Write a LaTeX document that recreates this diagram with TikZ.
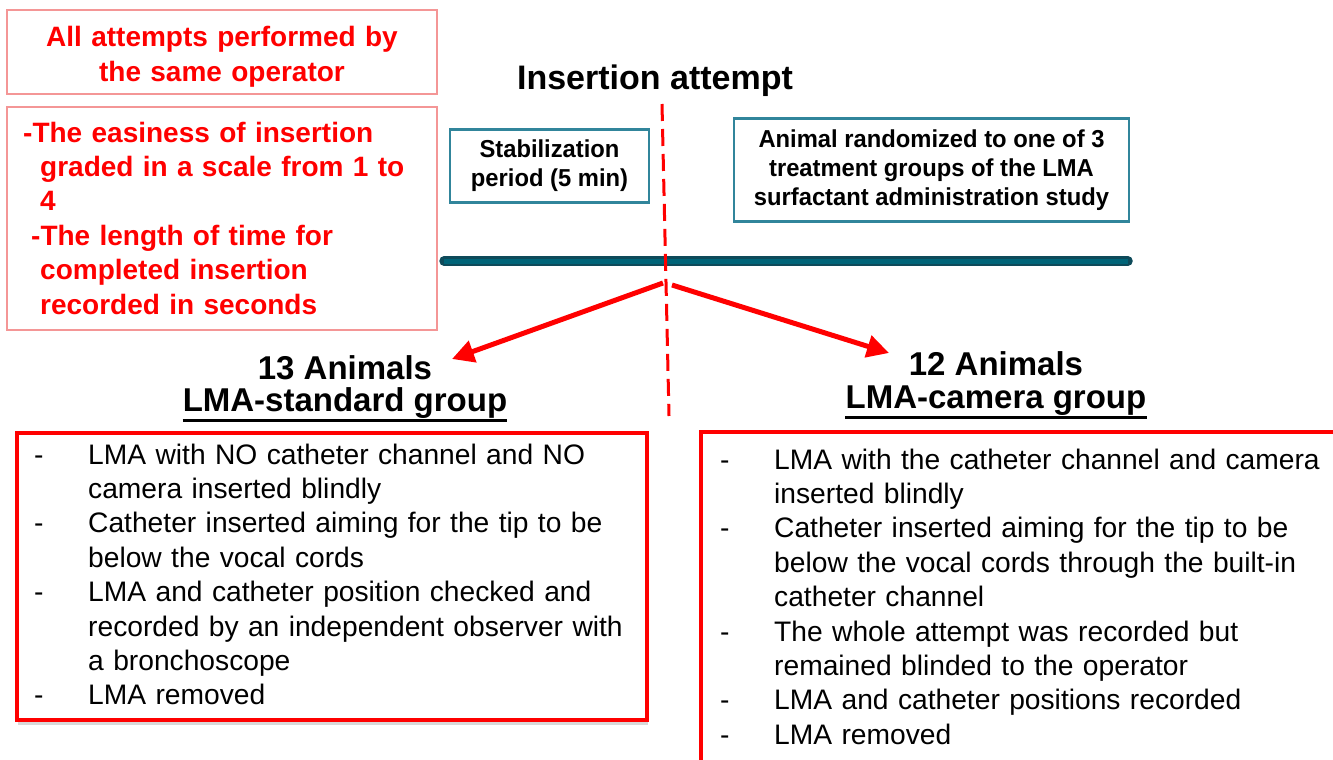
\documentclass[tikz,border=0pt]{standalone}
\usepackage{fontspec}
\setmainfont{Liberation Sans}
\newfontfamily\narrowbold[FakeStretch=0.97]{Liberation Sans Bold}
\usetikzlibrary{arrows.meta,shadows}
\definecolor{myred}{RGB}{255,0,0}
\definecolor{lightred}{RGB}{244,150,150}
\definecolor{tealbox}{RGB}{49,133,155}
\definecolor{tealbar}{RGB}{0,100,120}
\definecolor{tealedge}{RGB}{14,74,90}
\newcommand{\itmdash}{\makebox[54pt][l]{-}}
\newcommand{\itmcont}{\hspace*{54pt}}
\begin{document}
\begin{tikzpicture}[x=1pt,y=-1pt,
  thinbox/.style={draw=lightred, line width=1.2pt, fill=white, inner sep=0pt},
  redtext/.style={text=myred, font=\fontsize{28}{34.4}\selectfont\bfseries, inner sep=0pt},
  tealframe/.style={draw=tealbox, line width=2.5pt, fill=white, align=center, inner sep=0pt,
    font=\narrowbold\fontsize{24.5}{29}\selectfont},
  heading/.style={font=\fontsize{33}{38}\selectfont\bfseries, inner sep=0pt, anchor=base},
  listbox/.style={draw=myred, line width=4pt, fill=white, inner sep=0pt,
    drop shadow={shadow xshift=1pt, shadow yshift=-5pt, opacity=0.25, fill=black!60}},
  listtext/.style={font=\fontsize{28.2}{34.4}\selectfont, inner sep=0pt, anchor=base west, align=left},
  splitarrow/.style={draw=myred, line width=5pt, -{Triangle[length=22pt,width=22pt]}},
  dashline/.style={draw=myred, line width=3pt, dash pattern=on 17pt off 8pt}
]
\useasboundingbox (0,0) rectangle (1333,760);
\fill[white] (0,0) rectangle (1333,760);

% top-left red boxes
\node[thinbox, minimum width=430pt, minimum height=84pt] (opbox) at (222,52) {};
\node[redtext, anchor=base, text width=420pt, align=center] (optext) at (222,47)
  {All attempts performed by\\the same operator};
\node[thinbox, minimum width=430pt, minimum height=223pt] (notebox) at (222,218.5) {};
\node[redtext, anchor=base west, text width=410pt, align=left] (notetext) at (23,142)
  {-The easiness of insertion\\
   \hspace*{17pt}graded in a scale from 1 to\\
   \hspace*{17pt}4\\
   \hspace*{8pt}-The length of time for\\
   \hspace*{17pt}completed insertion\\
   \hspace*{17pt}recorded in seconds};

% title
\node[font=\fontsize{34}{40}\selectfont\bfseries, inner sep=0pt, anchor=base] (title) at (655,89) {Insertion attempt};

% teal boxes
\node[tealframe, minimum width=199pt, minimum height=73pt] (stab) at (549.5,166)
  {Stabilization\\period (5 min)};
\node[tealframe, minimum width=395pt, minimum height=103pt] (rand) at (931.5,170)
  {Animal randomized to one of 3\\treatment groups of the LMA\\surfactant administration study};

% timeline bar
\coordinate (barL) at (444,261);
\coordinate (barR) at (1128,261);
\draw[tealedge, line width=9.5pt, line cap=round] (barL) -- (barR);
\draw[tealbar, line width=5pt] (barL) -- (barR);

% dashed vertical line
\coordinate (dtop) at (662,104);
\coordinate (dbot) at (669,416);
\draw[dashline] (dtop) -- (dbot);

% arrows
\coordinate (splitL) at (663,283);
\coordinate (tipL) at (452,359);
\coordinate (splitR) at (672,285);
\coordinate (tipR) at (889,353);
\draw[splitarrow] (splitL) -- (tipL);
\draw[splitarrow] (splitR) -- (tipR);

% group headings
\node[heading] (stdn) at (345,379) {13 Animals};
\node[heading] (stdg) at (345,411) {LMA-standard group};
\draw[line width=3pt] ([yshift=-9pt]stdg.base west) -- ([yshift=-9pt]stdg.base east);
\node[heading] (camn) at (996,375) {12 Animals};
\node[heading] (camg) at (996,408) {LMA-camera group};
\draw[line width=3pt] ([yshift=-9pt]camg.base west) -- ([yshift=-9pt]camg.base east);

% bottom lists
\node[listbox, minimum width=630pt, minimum height=287pt] (stdbox) at (332,576.5) {};
\node[listtext, text width=615pt] (stdlist) at (34,464)
  {\itmdash LMA with NO catheter channel and NO\\
   \itmcont camera inserted blindly\\
   \itmdash Catheter inserted aiming for the tip to be\\
   \itmcont below the vocal cords\\
   \itmdash LMA and catheter position checked and\\
   \itmcont recorded by an independent observer with\\
   \itmcont a bronchoscope\\
   \itmdash LMA removed};

\node[listbox, minimum width=644pt, minimum height=343pt] (cambox) at (1023,603.5) {};
\node[listtext, text width=610pt] (camlist) at (720,469)
  {\itmdash LMA with the catheter channel and camera\\
   \itmcont inserted blindly\\
   \itmdash Catheter inserted aiming for the tip to be\\
   \itmcont below the vocal cords through the built-in\\
   \itmcont catheter channel\\
   \itmdash The whole attempt was recorded but\\
   \itmcont remained blinded to the operator\\
   \itmdash LMA and catheter positions recorded\\
   \itmdash LMA removed};
\end{tikzpicture}
\end{document}
